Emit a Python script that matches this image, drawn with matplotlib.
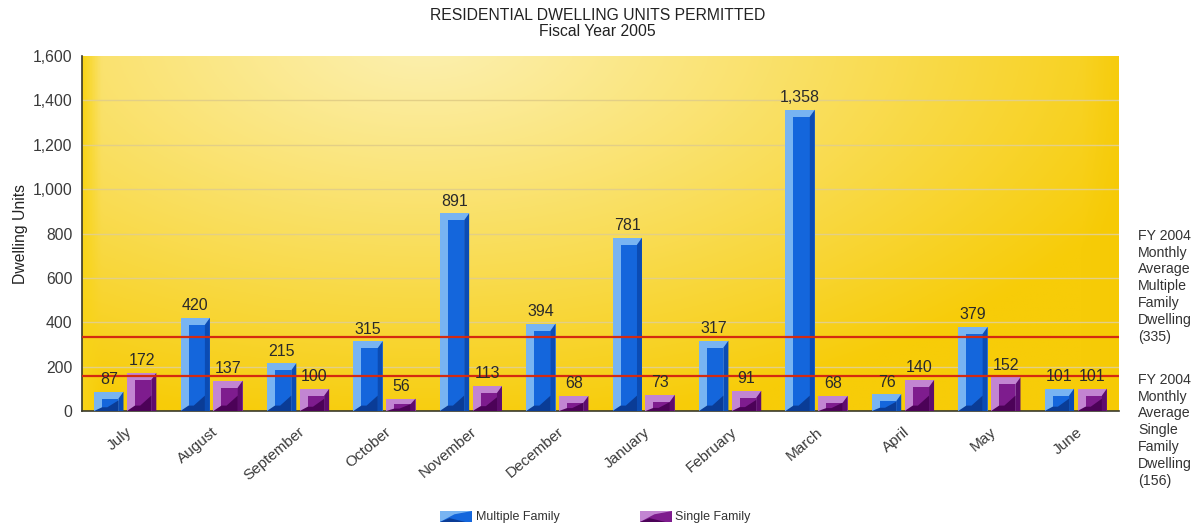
import numpy as np
import matplotlib
matplotlib.use("Agg")
import matplotlib.pyplot as plt
from matplotlib.patches import Polygon, Rectangle
from matplotlib.colors import to_rgb

plt.rcParams['font.family'] = ['Liberation Sans', 'DejaVu Sans']

months = ["July", "August", "September", "October", "November", "December",
          "January", "February", "March", "April", "May", "June"]
multiple_family = [87, 420, 215, 315, 891, 394, 781, 317, 1358, 76, 379, 101]
single_family = [172, 137, 100, 56, 113, 68, 73, 91, 68, 140, 152, 101]
avg_multiple_fy2004 = 335
avg_single_fy2004 = 156
yticks = [0, 200, 400, 600, 800, 1000, 1200, 1400, 1600]

W, H = 1195, 527
fig = plt.figure(figsize=(W / 100, H / 100), dpi=100)
fig.patch.set_facecolor("white")
ax = fig.add_axes([82 / W, 1 - 411 / H, (1119 - 82) / W, (411 - 56) / H])
ax.set_xlim(-0.5, 11.5)
ax.set_ylim(0, 1600)

# warm yellow backdrop: pale near the upper middle, golden toward the edges
gx, gy = np.meshgrid(np.linspace(0, 1, 400), np.linspace(0, 1, 200))
d = np.sqrt(((gx - 0.33) / 0.75) ** 2 + ((gy - 1.05) / 1.1) ** 2)
t = np.clip(d, 0, 1) ** 1.1
light = np.array(to_rgb("#FCF0B0"))
gold = np.array(to_rgb("#F7CC08"))
img = light[None, None, :] * (1 - t[..., None]) + gold[None, None, :] * t[..., None]
edge = np.clip(1 - gx / 0.018, 0, 1)[..., None]
img = img * (1 - edge) + np.array(to_rgb("#F8D418"))[None, None, :] * edge
redge = np.clip((gx - 0.965) / 0.035, 0, 1)[..., None] * 0.5
img = img * (1 - redge) + np.array(to_rgb("#F5C800"))[None, None, :] * redge
ax.imshow(img, extent=(-0.5, 11.5, 0, 1600), aspect="auto", origin="lower", zorder=0)

for yv in yticks[1:-1]:
    ax.axhline(yv, color="#E3CF86", lw=1.0, zorder=1)

# bevel size in data units (about 7 px each way)
px_x = 12.0 / (1119 - 82)
px_y = 1600.0 / (411 - 56)
bx, by = 8 * px_x, 7 * px_y
rx = 5 * px_x


def bevel_bar(x0, w, h, c_light, c_main, c_right, c_floor):
    x1 = x0 + w
    b = min(by, h * 0.45)
    ax.add_patch(Rectangle((x0, 0), w, h, facecolor=c_light, edgecolor="none", zorder=3))
    ax.add_patch(Polygon([(x0 + bx, 0), (x0 + bx, h - b), (x1 - rx, h - b), (x1 - rx, 0)],
                         closed=True, facecolor=c_main, edgecolor="none", zorder=4))
    ax.add_patch(Polygon([(x1 - rx, 0), (x1 - rx, h - b), (x1, h), (x1, 0)],
                         closed=True, facecolor=c_right, edgecolor="none", zorder=4))
    fb = min(h * 0.55, 2.2 * by)
    ax.add_patch(Polygon([(x0, 0), (x0 + bx, fb * 0.35), (x0 + w * 0.45, fb * 0.35),
                          (x1 - rx, fb), (x1 - rx, 0)],
                         closed=True, facecolor=c_floor, edgecolor="none", zorder=5))


blue = ("#78B4F2", "#1466DC", "#0B4CB4", "#0A3C96")
purple = ("#C285D2", "#7E1C8E", "#5E0C6E", "#4C0258")
bw = 0.34
off = 0.19
x = np.arange(len(months))
for i in range(len(months)):
    bevel_bar(x[i] - off - bw / 2, bw, multiple_family[i], *blue)
    bevel_bar(x[i] + off - bw / 2, bw, single_family[i], *purple)
    ax.text(x[i] - off, multiple_family[i] + 20, f"{multiple_family[i]:,}",
            ha="center", va="bottom", fontsize=11.5, color="#2A2A2A", zorder=7)
    ax.text(x[i] + off, single_family[i] + 20, f"{single_family[i]:,}",
            ha="center", va="bottom", fontsize=11.5, color="#2A2A2A", zorder=7)

ax.axhline(avg_multiple_fy2004, color="#D42A10", lw=1.6, zorder=6)
ax.axhline(avg_single_fy2004, color="#D42A10", lw=1.6, zorder=6)

ax.set_yticks(yticks)
ax.set_yticklabels([f"{v:,}" for v in yticks], fontsize=11.3, color="#3A3A3A")
ax.set_xticks(x)
ax.set_xticklabels(months, rotation=40, ha="right", rotation_mode="anchor",
                   fontsize=11, color="#3A3A3A")
ax.tick_params(axis="y", length=0, pad=7)
ax.tick_params(axis="x", length=0, pad=10)
for s in ("top", "right"):
    ax.spines[s].set_visible(False)
for s in ("left", "bottom"):
    ax.spines[s].set_color("#3A3A2A")
    ax.spines[s].set_linewidth(1.2)
ax.set_ylabel("Dwelling Units", fontsize=11.3, color="#222222", labelpad=3)

fig.text(0.5, 1 - 15 / H, "RESIDENTIAL DWELLING UNITS PERMITTED", ha="center", va="center",
         fontsize=11.3, color="#222222")
fig.text(0.5, 1 - 32 / H, "Fiscal Year 2005", ha="center", va="center",
         fontsize=11.3, color="#222222")

fig.text(1138 / W, 1 - 229 / H,
         f"FY 2004\nMonthly\nAverage\nMultiple\nFamily\nDwelling\n({avg_multiple_fy2004})",
         ha="left", va="top", fontsize=10.2, color="#333333", linespacing=1.25)
fig.text(1138 / W, 1 - 373 / H,
         f"FY 2004\nMonthly\nAverage\nSingle\nFamily\nDwelling\n({avg_single_fy2004})",
         ha="left", va="top", fontsize=10.2, color="#333333", linespacing=1.25)


def legend_icon(xp, yp, colors):
    w, h = 32 / W, 11 / H
    x0, y0 = xp / W, 1 - yp / H
    fig.patches.append(Rectangle((x0, y0), w, h, facecolor=colors[0], edgecolor="none",
                                 transform=fig.transFigure, figure=fig))
    fig.patches.append(Polygon([(x0, y0), (x0 + w * 0.45, y0 + h * 0.7), (x0 + w, y0 + h),
                                (x0 + w, y0)], closed=True, facecolor=colors[1],
                               edgecolor="none", transform=fig.transFigure, figure=fig))
    fig.patches.append(Polygon([(x0, y0), (x0 + w * 0.3, y0 + h * 0.35), (x0 + w * 0.8, y0)],
                               closed=True, facecolor=colors[3], edgecolor="none",
                               transform=fig.transFigure, figure=fig))


legend_icon(440, 522, blue)
fig.text(476 / W, 1 - 517 / H, "Multiple Family", ha="left", va="center", fontsize=9,
         color="#333333")
legend_icon(640, 522, purple)
fig.text(675 / W, 1 - 517 / H, "Single Family", ha="left", va="center", fontsize=9,
         color="#333333")

fig.savefig("out.png", dpi=100, facecolor="white")
